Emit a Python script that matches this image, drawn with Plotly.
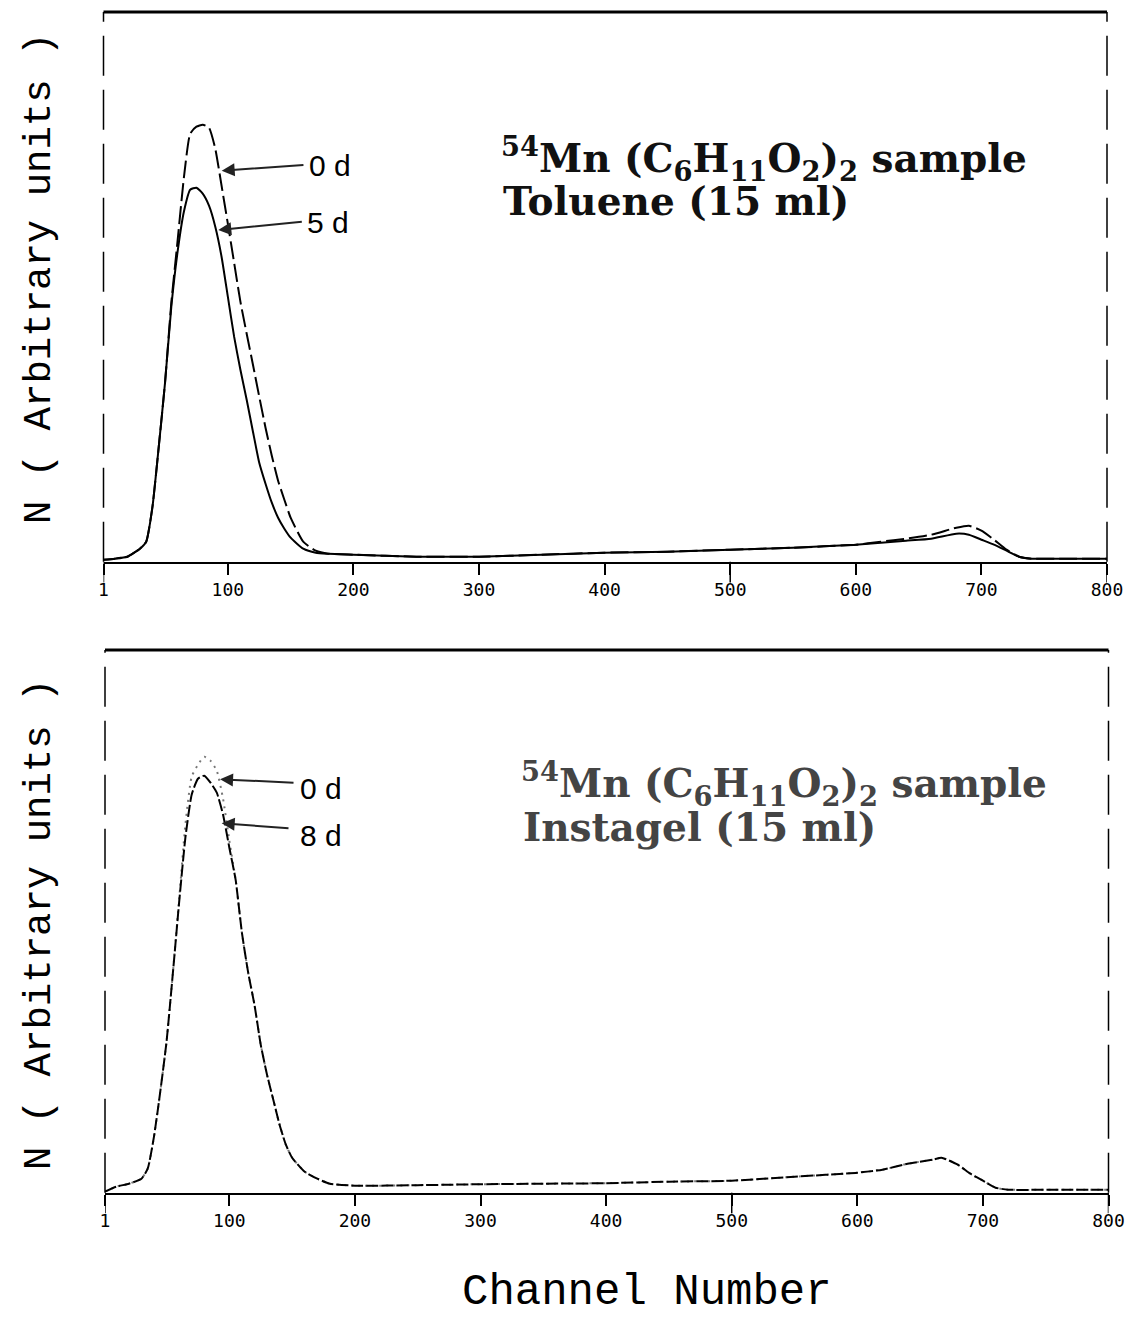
import plotly.graph_objects as go

# ---------------- data (arbitrary units) ----------------
ch_top = [1, 10, 20, 30, 35, 40, 45, 50, 55, 60, 65, 70, 75, 80, 85, 90, 95, 100, 105,
          110, 115, 120, 125, 130, 135, 140, 145, 150, 160, 170, 180, 200, 250, 300,
          350, 400, 450, 500, 550, 600, 620, 640, 660, 680, 690, 700, 710, 720, 730,
          740, 760, 800]
top_0d = [2, 3, 5, 13, 20, 55, 115, 179, 259, 321, 384, 428, 435, 437, 434, 413, 376, 338, 299,
          260, 228, 197, 165, 134, 106, 81, 62, 44, 20, 11, 8, 7, 5, 5,
          7, 9, 10, 12, 14, 17, 20, 23, 27, 34, 36, 31, 22, 12, 5,
          3, 3, 3]
top_5d = [2, 3, 5, 13, 20, 55, 115, 179, 255, 310, 350, 372, 374, 368, 356, 335, 305, 265, 225,
          192, 162, 130, 99, 78, 59, 44, 33, 24, 13, 9, 8, 7, 5, 5,
          7, 9, 10, 12, 14, 17, 19, 21, 23, 28, 27, 22, 17, 11, 5,
          3, 3, 3]

ch_bot = [1, 10, 20, 30, 35, 40, 45, 50, 55, 60, 65, 70, 75, 80, 85, 90, 95, 100, 105,
          110, 115, 120, 125, 130, 135, 140, 145, 150, 160, 170, 180, 200, 250, 300,
          350, 400, 450, 500, 550, 600, 620, 640, 660, 667, 680, 690, 700, 710, 720,
          760, 800]
bot_0d = [1, 6, 9, 14, 24, 56, 101, 151, 219, 293, 368, 416, 428, 436, 432, 422, 394, 352, 313,
          260, 220, 188, 148, 118, 93, 68, 48, 35, 21, 14, 9, 7, 7.5, 8.5,
          9, 9.5, 11, 12, 16, 20, 23, 29, 33, 35, 28, 19, 12, 5, 3,
          3, 3]
bot_8d = [1, 6, 9, 14, 24, 56, 101, 151, 219, 290, 355, 398, 414, 417, 410, 400, 378, 345, 313,
          260, 220, 188, 148, 118, 93, 68, 48, 35, 21, 14, 9, 7, 7.5, 8.5,
          9, 9.5, 11, 12, 16, 20, 23, 29, 33, 35, 28, 19, 12, 5, 3,
          3, 3]

tick_vals = [1, 100, 200, 300, 400, 500, 600, 700, 800]
tick_text = ["1", "100", "200", "300", "400", "500", "600", "700", "800"]
long_ticks = [1, 500, 800]

# ---------------- figure ----------------
W, H = 1126, 1318
fig = go.Figure()

fig.add_trace(go.Scatter(x=ch_top, y=top_0d, mode="lines", xaxis="x", yaxis="y",
                         line=dict(color="black", width=2, dash="18px,5px",
                                   shape="spline", smoothing=0.5)))
fig.add_trace(go.Scatter(x=ch_top, y=top_5d, mode="lines", xaxis="x", yaxis="y",
                         line=dict(color="black", width=2,
                                   shape="spline", smoothing=0.5)))
fig.add_trace(go.Scatter(x=ch_bot, y=bot_0d, mode="lines", xaxis="x2", yaxis="y2",
                         line=dict(color="#777777", width=2, dash="2px,5px",
                                   shape="spline", smoothing=0.5)))
fig.add_trace(go.Scatter(x=ch_bot, y=bot_8d, mode="lines", xaxis="x2", yaxis="y2",
                         line=dict(color="black", width=2, dash="12px,3px",
                                   shape="spline", smoothing=0.5)))

axis_common = dict(range=[1, 800], showline=True, linecolor="black", linewidth=2,
                   ticks="outside", ticklen=11, tickwidth=1.5, tickcolor="black",
                   tickvals=tick_vals, ticktext=tick_text, automargin=False,
                   ticklabeloverflow="allow",
                   tickfont=dict(family="DejaVu Sans Mono", size=18, color="black"),
                   showgrid=False, zeroline=False, fixedrange=True)
yaxis_common = dict(showgrid=False, zeroline=False, showticklabels=False, automargin=False,
                    showline=False, ticks="", fixedrange=True)

fig.update_layout(
    width=W, height=H, autosize=False,
    margin=dict(l=0, r=0, t=0, b=0, pad=0),
    paper_bgcolor="white", plot_bgcolor="white",
    showlegend=False,
    xaxis=dict(domain=[103.5 / W, 1107 / W], anchor="y", **axis_common),
    yaxis=dict(domain=[1 - 561.7 / H, 1 - 12 / H], range=[0, 549.7], anchor="x", **yaxis_common),
    xaxis2=dict(domain=[105 / W, 1108.5 / W], anchor="y2", **axis_common),
    yaxis2=dict(domain=[1 - 1192.7 / H, 1 - 650 / H], range=[0, 542.7], anchor="x2", **yaxis_common),
)

shapes = []
for xr, yr in (("x", "y"), ("x2", "y2")):
    xd, yd = xr + " domain", yr + " domain"
    shapes.append(dict(type="line", xref=xd, yref=yd, x0=0, x1=1, y0=1, y1=1,
                       line=dict(color="black", width=3)))
    shapes.append(dict(type="line", xref=xd, yref=yd, x0=0, x1=0, y0=0, y1=1,
                       line=dict(color="black", width=1.5, dash="40px,14px")))
    shapes.append(dict(type="line", xref=xd, yref=yd, x0=1, x1=1, y0=0, y1=1,
                       line=dict(color="black", width=1.5, dash="40px,14px")))
    for t in long_ticks:
        shapes.append(dict(type="line", xref=xr, yref=yd, x0=t, x1=t, y0=0, y1=-0.038,
                           line=dict(color="black", width=1.5)))
fig.update_layout(shapes=shapes)

ann = []
# y-axis titles
for yc in (279, 925):
    ann.append(dict(xref="paper", yref="paper", x=40 / W, y=1 - yc / H, text="N ( Arbitrary units )",
                    textangle=-90, showarrow=False, xanchor="center", yanchor="middle",
                    font=dict(family="Liberation Mono", size=39, color="black")))
# x-axis title
ann.append(dict(xref="paper", yref="paper", x=647 / W, y=1 - 1292 / H, text="Channel Number",
                showarrow=False, xanchor="center", yanchor="middle",
                font=dict(family="Liberation Mono", size=44, color="black")))

# arrows (tip on curve, tail at label)
arrows = [
    ("x", "y", 95.1, 391, 161.4, 396.7),
    ("x", "y", 92.4, 331.7, 160.1, 340),
    ("x2", "y2", 92.6, 413.4, 152.3, 410),
    ("x2", "y2", 93.9, 369.4, 148.3, 364.4),
]
for xr, yr, x, y, ax, ay in arrows:
    ann.append(dict(xref=xr, yref=yr, x=x, y=y, ax=ax, ay=ay, axref=xr, ayref=yr,
                    text="", showarrow=True, arrowhead=2, arrowsize=1.3, arrowwidth=2,
                    arrowcolor="#222222"))
labels = [
    ("x", "y", 163, 396.7, "0 d"),
    ("x", "y", 161.4, 339.7, "5 d"),
    ("x2", "y2", 154.7, 404.7, "0 d"),
    ("x2", "y2", 154.7, 357.7, "8 d"),
]
for xr, yr, x, y, t in labels:
    ann.append(dict(xref=xr, yref=yr, x=x, y=y, text=t, showarrow=False,
                    xanchor="left", yanchor="middle",
                    font=dict(family="Liberation Sans", size=30, color="black")))

line1 = "<b><sup>54</sup>Mn (C<sub>6</sub>H<sub>11</sub>O<sub>2</sub>)<sub>2</sub> sample</b>"
blocks = [
    ("x", "y", 316.0, 403.5, line1, "#111111"),
    ("x", "y", 317.5, 360.5, "<b>Toluene (15 ml)</b>", "#111111"),
    ("x2", "y2", 330.5, 409.5, line1, "#444444"),
    ("x2", "y2", 332.5, 365.5, "<b>Instagel (15 ml)</b>", "#444444"),
]
for xr, yr, x, y, t, c in blocks:
    ann.append(dict(xref=xr, yref=yr, x=x, y=y, text=t, showarrow=False,
                    xanchor="left", yanchor="middle",
                    font=dict(family="DejaVu Serif", size=39, color=c)))

fig.update_layout(annotations=ann)
fig.write_html("out.html")
